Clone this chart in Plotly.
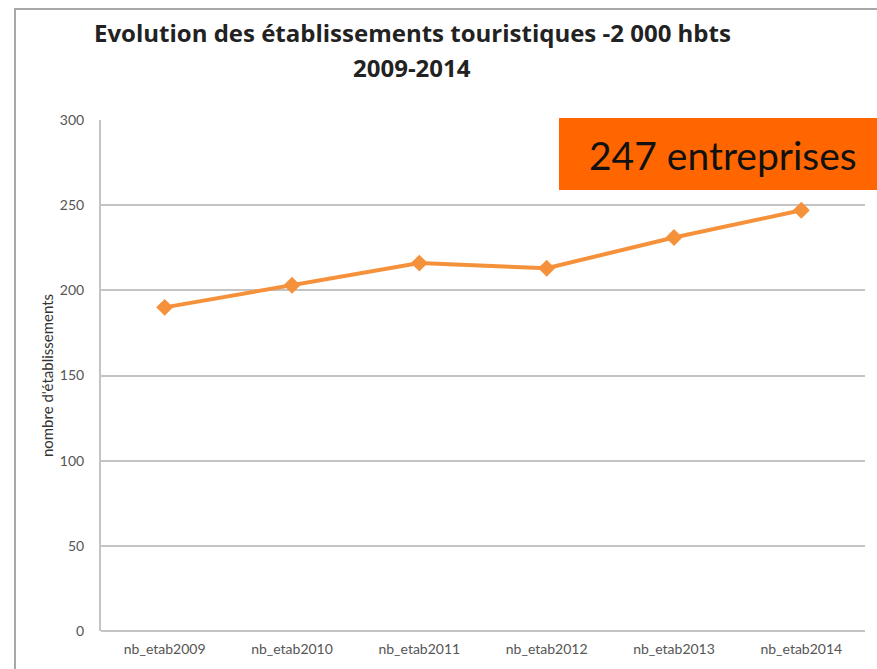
import plotly.graph_objects as go

categories = ["nb_etab2009", "nb_etab2010", "nb_etab2011", "nb_etab2012", "nb_etab2013", "nb_etab2014"]
values = [190, 203, 216, 213, 231, 247]
y_ticks = [0, 50, 100, 150, 200, 250, 300]

W, H = 877, 669
L, R, T, B = 101, 12, 120, 38
pw, ph = W - L - R, H - T - B

def px(x):
    return (x - L) / pw

def py(y):
    return (H - B - y) / ph

fig = go.Figure()
fig.add_trace(go.Scatter(
    x=categories, y=values, mode="lines+markers",
    line=dict(color="#F5913A", width=4),
    marker=dict(symbol="diamond", size=13, color="#F5913A"),
    showlegend=False, cliponaxis=False,
))

shapes = [
    dict(type="line", xref="paper", yref="paper", x0=px(15), x1=px(15), y0=py(8), y1=py(680),
         line=dict(color="#A8A8A8", width=2)),
    dict(type="line", xref="paper", yref="paper", x0=px(15), x1=px(890), y0=py(9), y1=py(9),
         line=dict(color="#A8A8A8", width=2)),
    dict(type="rect", xref="paper", yref="paper", x0=px(559), x1=px(880), y0=py(190), y1=py(118),
         fillcolor="#FF6600", line=dict(width=0), layer="above"),
]

def ann(text, x, y, family, size, color):
    return dict(text=text, xref="paper", yref="paper", x=px(x), y=py(y), xanchor="center",
                yanchor="middle", showarrow=False, font=dict(family=family, size=size, color=color))

annotations = [
    ann("<b>Evolution des établissements touristiques -2 000 hbts</b>", 412, 33, "Open Sans", 24, "#222222"),
    ann("<b>2009-2014</b>", 412, 67, "Open Sans", 24, "#222222"),
    ann("247 entreprises", 723, 155, "Lato", 39, "#111111"),
]

fig.update_layout(
    width=W, height=H, margin=dict(l=L, r=R, t=T, b=B),
    paper_bgcolor="white", plot_bgcolor="white",
    shapes=shapes, annotations=annotations,
    font=dict(family="Lato", color="#555555"),
    xaxis=dict(type="category", range=[-0.5, 5.5], showgrid=False, showline=False,
               tickfont=dict(size=14, color="#555555"), ticks="", ticklabelstandoff=8),
    yaxis=dict(range=[0, 300], tickvals=y_ticks, showgrid=True, gridcolor="#C4C4C4", gridwidth=2,
               showline=True, linecolor="#C4C4C4", linewidth=2, zeroline=True, zerolinecolor="#C4C4C4",
               zerolinewidth=2, tickfont=dict(size=14, color="#555555"), ticks="", ticklabelstandoff=12,
               title=dict(text="nombre d'établissements", font=dict(size=15, color="#333333"), standoff=3)),
)

fig.write_html("out.html", config={"displayModeBar": False},
               post_script="document.body.style.margin='0';document.body.style.overflow='hidden';")
